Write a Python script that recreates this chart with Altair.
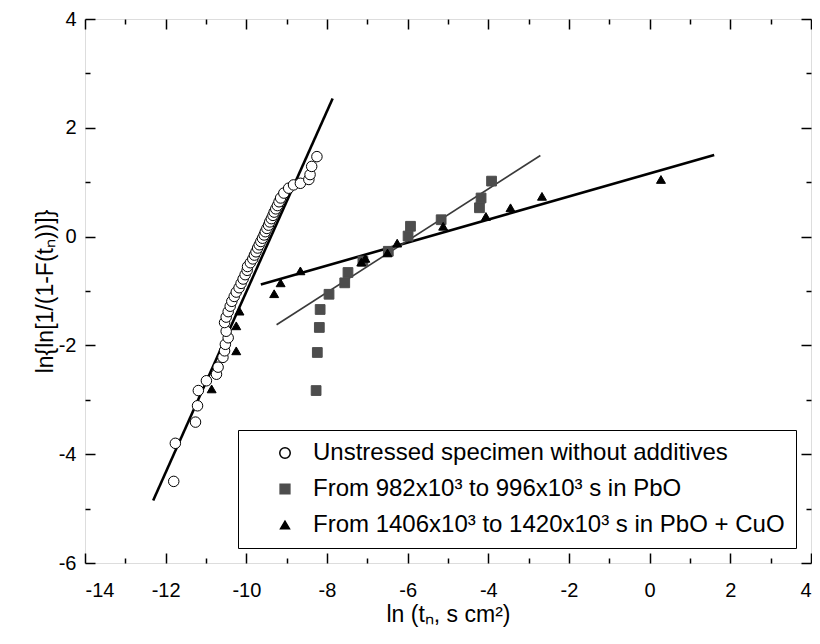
import altair as alt
import pandas as pd

# ---- data ----
series_names = [
    "Unstressed specimen without additives",
    "From 982x10³ to 996x10³ s in PbO",
    "From 1406x10³ to 1420x10³ s in PbO + CuO",
]

circ_x = [-11.80, -11.76, -11.26, -11.21, -11.19, -10.99, -10.74, -10.70, -10.58, -10.54,
          -10.52, -10.45, -10.50, -10.54, -10.50, -10.45, -10.40, -10.36, -10.30, -10.25,
          -10.18, -10.13, -10.08, -10.03, -9.98, -9.97, -9.90, -9.84, -9.80, -9.76,
          -9.72, -9.68, -9.64, -9.60, -9.56, -9.53, -9.49, -9.45, -9.42, -9.38,
          -9.34, -9.31, -9.27, -9.23, -9.19, -9.15, -9.07, -8.95, -8.83, -8.66,
          -8.45, -8.42, -8.38, -8.25]
circ_y = [-4.50, -3.80, -3.41, -3.11, -2.83, -2.65, -2.53, -2.40, -2.22, -2.10,
          -1.98, -1.86, -1.74, -1.58, -1.48, -1.38, -1.28, -1.19, -1.10, -1.02,
          -0.94, -0.86, -0.78, -0.70, -0.62, -0.55, -0.48, -0.41, -0.34, -0.28,
          -0.21, -0.15, -0.09, -0.03, 0.03, 0.09, 0.15, 0.21, 0.27, 0.33,
          0.39, 0.45, 0.51, 0.57, 0.64, 0.71, 0.80, 0.89, 0.95, 0.98,
          1.05, 1.14, 1.29, 1.47]

sq_x = [-8.27, -8.24, -8.19, -8.17, -7.95, -7.56, -7.48, -7.11, -6.48, -5.99,
        -5.93, -5.17, -4.22, -4.18, -3.92]
sq_y = [-2.83, -2.13, -1.67, -1.34, -1.06, -0.85, -0.66, -0.45, -0.27, 0.01,
        0.19, 0.31, 0.53, 0.71, 1.02]

tri_x = [-10.86, -10.25, -10.25, -10.17, -9.31, -9.15, -8.66, -7.15, -7.05, -6.50,
         -6.26, -5.12, -4.06, -3.45, -2.67, 0.28]
tri_y = [-2.80, -2.10, -1.64, -1.37, -1.05, -0.85, -0.63, -0.47, -0.40, -0.30,
         -0.12, 0.19, 0.37, 0.53, 0.74, 1.05]

# fitted straight lines (end points)
line_names = ["unstressed", "pbo", "pbocuo"]
line_x = [[-12.31, -7.86], [-9.25, -2.71], [-9.64, 1.60]]
line_y = [[-4.85, 2.54], [-1.62, 1.49], [-0.88, 1.50]]

x_major = [-14, -12, -10, -8, -6, -4, -2, 0, 2, 4]
x_minor = [-13, -11, -9, -7, -5, -3, -1, 1, 3]
y_major = [-6, -4, -2, 0, 2, 4]
y_minor = [-5, -3, -1, 1, 3]

# ---- tables ----
pts = pd.DataFrame(
    [{"x": a, "y": b, "series": series_names[0]} for a, b in zip(circ_x, circ_y)]
    + [{"x": a, "y": b, "series": series_names[1]} for a, b in zip(sq_x, sq_y)]
    + [{"x": a, "y": b, "series": series_names[2]} for a, b in zip(tri_x, tri_y)]
)
lines = pd.DataFrame(
    [{"x": xv, "y": yv, "line": n, "order": i}
     for n, xs, ys in zip(line_names, line_x, line_y)
     for i, (xv, yv) in enumerate(zip(xs, ys))]
)

FONT = "Liberation Sans"
xscale = alt.Scale(domain=[-14, 4], nice=False, zero=False)
yscale = alt.Scale(domain=[-6, 4], nice=False, zero=False)


def axis(orient, values, major, labels=False, title=None, pad=0, tpad=0):
    size = 10 if major else 5
    kw = dict(orient=orient, values=values, tickSize=alt.ExprRef(f"-{size}"),
              domain=False, grid=False, labels=labels, title=title,
              tickColor="black", tickWidth=1.5)
    if labels:
        kw.update(labelPadding=pad, labelFont=FONT, labelFontSize=20, labelColor="black",
                  labelExpr="'' + datum.value",
                  titlePadding=tpad, titleFont=FONT, titleFontSize=23,
                  titleFontWeight="normal", titleColor="black")
    return alt.Axis(**kw)


thick = alt.Chart(lines).transform_filter(
    alt.FieldOneOfPredicate(field="line", oneOf=["unstressed", "pbocuo"])
).mark_line(color="black", strokeWidth=2.6).encode(
    x=alt.X("x:Q", scale=xscale,
            axis=axis("bottom", x_major, True, labels=True, title="ln (tₙ, s cm²)", pad=27, tpad=3)),
    y=alt.Y("y:Q", scale=yscale,
            axis=axis("left", y_major, True, labels=True, title="ln{ln[1/(1-F(tₙ))]}", pad=19, tpad=1)),
    detail="line:N",
    order="order:Q",
)

thin = alt.Chart(lines).transform_filter(
    alt.FieldEqualPredicate(field="line", equal="pbo")
).mark_line(color="#3a3a3a", strokeWidth=1.6).encode(
    x=alt.X("x:Q", scale=xscale, axis=axis("bottom", x_minor, False)),
    y=alt.Y("y:Q", scale=yscale, axis=axis("left", y_minor, False)),
    order="order:Q",
)

ghost = alt.Chart(lines).mark_point(opacity=0).encode(
    x=alt.X("x:Q", scale=xscale, axis=axis("top", x_major, True)),
    y=alt.Y("y:Q", scale=yscale, axis=axis("right", y_major, True)),
)

points = alt.Chart(pts).mark_point(filled=True, opacity=1, strokeWidth=1).encode(
    x=alt.X("x:Q", scale=xscale, axis=axis("top", x_minor, False)),
    y=alt.Y("y:Q", scale=yscale, axis=axis("right", y_minor, False)),
    shape=alt.Shape("series:N",
                    scale=alt.Scale(domain=series_names, range=["circle", "square", "triangle-up"]),
                    legend=alt.Legend(title=None, orient="none", legendX=153, legendY=411,
                                      labelFont=FONT, labelFontSize=24, labelColor="black",
                                      labelLimit=700, padding=11, rowPadding=12,
                                      symbolOffset=24, labelOffset=16,
                                      strokeColor="black", fillColor="white")),
    fill=alt.Fill("series:N",
                  scale=alt.Scale(domain=series_names, range=["white", "#4d4d4d", "black"])),
    stroke=alt.Stroke("series:N",
                      scale=alt.Scale(domain=series_names, range=["black", "#4d4d4d", "black"])),
    size=alt.Size("series:N",
                  scale=alt.Scale(domain=series_names, range=[110, 80, 240])),
)

chart = alt.layer(thick, thin, ghost, points).resolve_axis(
    x="independent", y="independent"
).properties(
    width=726, height=544,
    autosize=alt.AutoSizeParams(type="none"),
    padding={"left": 77, "top": 11, "right": 1, "bottom": 73},
    background="white",
).configure_view(
    stroke="black", strokeWidth=2
).configure_legend(
    strokeWidth=1.5
).configure(font=FONT)

chart.save("out.html", embed_options={"renderer": "svg", "actions": False})
